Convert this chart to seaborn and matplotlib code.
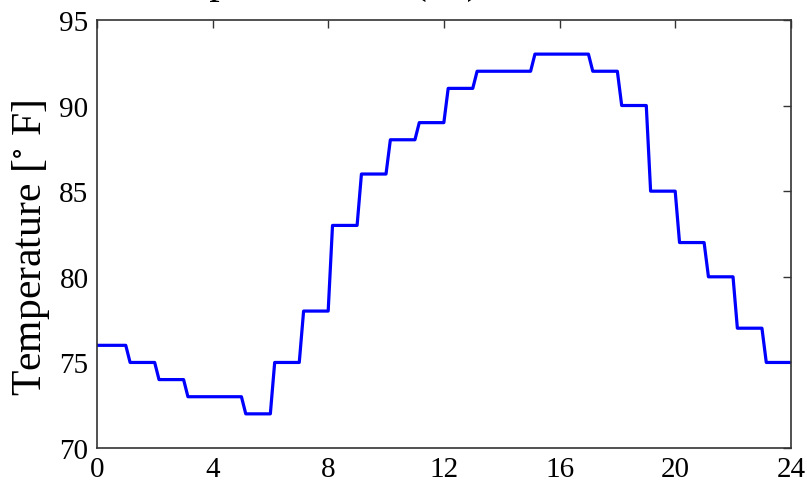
import numpy as np
import pandas as pd
import matplotlib
matplotlib.use("Agg")
import matplotlib.pyplot as plt
import seaborn as sns

# Data: hourly temperature levels (°F), hour 0..23
hours = list(range(24))
temps = [76, 75, 74, 73, 73, 72, 75, 78, 83, 86, 88, 89, 91, 92, 92,
         93, 93, 92, 90, 85, 82, 80, 77, 75]
x_ticks = [0, 4, 8, 12, 16, 20, 24]
y_ticks = [70, 75, 80, 85, 90, 95]
title_text = "Temperature Fit (°F)"
ylabel_text = r"Temperature [$^{\circ}$ F]"

ramp = 0.15  # short transition between hourly levels
xs, ys = [0.0], [temps[0]]
for h, t in zip(hours, temps):
    if h > 0:
        xs.append(h + ramp)
        ys.append(t)
    xs.append(h + 1.0)
    ys.append(t)
df = pd.DataFrame({"hour": xs, "temp": ys})

sns.set_style("white")
plt.rcParams["font.family"] = ["Liberation Serif", "DejaVu Serif"]
plt.rcParams["mathtext.fontset"] = "stix"
plt.rcParams["text.color"] = "black"
plt.rcParams["axes.labelcolor"] = "black"
plt.rcParams["xtick.color"] = "black"
plt.rcParams["ytick.color"] = "black"

fig = plt.figure(figsize=(8.07, 4.85), dpi=100)
ax = fig.add_axes([0.120, 0.074, 0.860, 0.883])

sns.lineplot(data=df, x="hour", y="temp", ax=ax, color="#0000ff",
             linewidth=2.3, sort=False, estimator=None)

ax.set_xlim(0, 24)
ax.set_ylim(70, 95)
ax.set_xticks(x_ticks)
ax.set_yticks(y_ticks)
ax.set_xticklabels([str(v) for v in x_ticks], fontsize=21)
ax.set_yticklabels([str(v) for v in y_ticks], fontsize=21)
ax.tick_params(direction="in", top=True, right=True, length=6, width=1,
               color="#333333", labelcolor="black", pad=6)
ax.set_xlabel("")
ax.set_ylabel(ylabel_text, fontsize=30, color="black")
ax.yaxis.set_label_coords(-0.064, 0.47)
for s in ax.spines.values():
    s.set_visible(True)
    s.set_color("#333333")
    s.set_linewidth(1.2)

fig.text(0.169, 1.0145, title_text, fontsize=30, ha="left", va="baseline",
         color="black")

fig.savefig("out.png", dpi=100)
